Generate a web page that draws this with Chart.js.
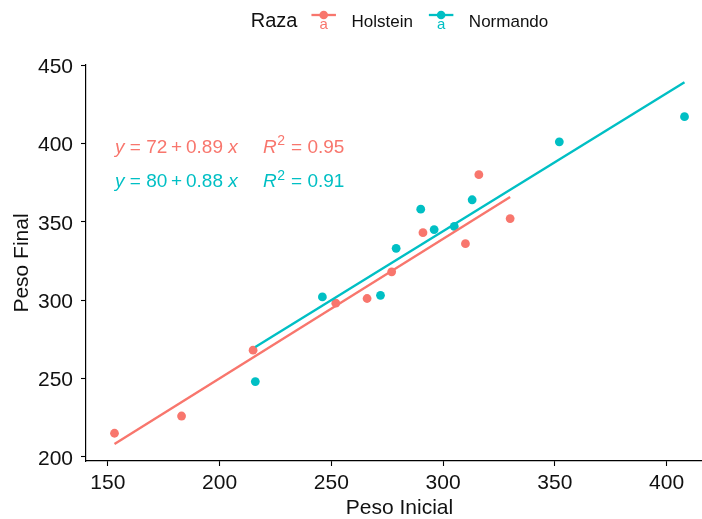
<!DOCTYPE html>
<html>
<head>
<meta charset="utf-8">
<script src="https://cdn.jsdelivr.net/npm/chart.js@4.4.1/dist/chart.umd.min.js"></script>
<style>
  html, body { margin: 0; padding: 0; background: #fff; overflow: hidden; }
  #wrap { width: 720px; height: 519px; }
</style>
</head>
<body>
<div id="wrap"><canvas id="chart" width="720" height="519"></canvas></div>
<script>
// ========== DATA ==========

const groupTitle = 'Raza';
const groupNames = ['Holstein', 'Normando'];
const groupColors = ['#F8766D', '#00BFC4'];

const holsteinInicial = [153, 183, 215, 252, 266, 277, 291, 310, 316, 330];
const holsteinFinal   = [215, 226, 268, 298, 301, 318, 343, 336, 380, 352];
const normandoInicial = [216, 246, 272, 279, 290, 296, 305, 313, 352, 408];
const normandoFinal   = [248, 302, 303, 333, 358, 345, 347, 364, 401, 417];

// fitted lines as printed on the plot
const intercepts = [72, 80];
const slopes = [0.89, 0.88];
const rSquared = ['0.95', '0.91'];

const xTicks = [150, 200, 250, 300, 350, 400];
const yTicks = [200, 250, 300, 350, 400, 450];

const FONT = "'Liberation Sans', Arial, sans-serif";

// ========== HELPERS ==========

function toPoints(xs, ys) {
  return xs.map((x, i) => ({ x: x, y: ys[i] }));
}

function fitLine(xs, i) {
  const lo = Math.min(...xs);
  const hi = Math.max(...xs);
  return [
    { x: lo, y: intercepts[i] + slopes[i] * lo },
    { x: hi, y: intercepts[i] + slopes[i] * hi }
  ];
}

const groupsX = [holsteinInicial, normandoInicial];
const groupsY = [holsteinFinal, normandoFinal];

// ========== PLUGINS ==========

// equation + R² labels in the upper left of the panel
const eqLabels = {
  id: 'eqLabels',
  afterDraw(chart) {
    const { ctx, chartArea } = chart;
    const thin = '\u2009';
    ctx.save();
    ctx.textBaseline = 'alphabetic';
    ctx.textAlign = 'left';
    groupNames.forEach((name, i) => {
      const base = chartArea.top + 87.5 + i * 34.5;
      ctx.fillStyle = groupColors[i];
      let x = chartArea.left + 29;
      ctx.font = 'italic 19px ' + FONT;
      ctx.fillText('y', x, base);
      x += ctx.measureText('y ').width;
      ctx.font = '19px ' + FONT;
      const body = '= ' + intercepts[i] + thin + '+' + thin + slopes[i].toFixed(2) + ' ';
      ctx.fillText(body, x, base);
      x += ctx.measureText(body).width;
      ctx.font = 'italic 19px ' + FONT;
      ctx.fillText('x', x, base);

      x = chartArea.left + 177;
      ctx.fillText('R', x, base);
      x += ctx.measureText('R').width + 0.5;
      ctx.font = '14px ' + FONT;
      ctx.fillText('2', x, base - 7.5);
      x += ctx.measureText('2').width + 6;
      ctx.font = '19px ' + FONT;
      ctx.fillText('= ' + rSquared[i], x, base);
    });
    ctx.restore();
  }
};

// legend strip above the panel: title, then line+point+"a" keys
const topLegend = {
  id: 'topLegend',
  afterDraw(chart) {
    const { ctx, chartArea } = chart;
    const keyW = 24.5;
    ctx.save();
    ctx.font = '20px ' + FONT;
    const titleW = ctx.measureText(groupTitle).width;
    ctx.font = '17px ' + FONT;
    const nameW = groupNames.map(n => ctx.measureText(n).width);
    const total = titleW + 14 + nameW.reduce((s, w) => s + keyW + 15.5 + w, 0) + 16 * (groupNames.length - 1);
    let x = (chartArea.left + chartArea.right) / 2 - total / 2;
    const base = 26.5;
    const keyY = 15;

    ctx.fillStyle = '#111';
    ctx.textBaseline = 'alphabetic';
    ctx.font = '20px ' + FONT;
    ctx.fillText(groupTitle, x, base);
    x += titleW + 14;

    groupNames.forEach((name, i) => {
      const c = groupColors[i];
      ctx.strokeStyle = c;
      ctx.lineWidth = 2.3;
      ctx.beginPath();
      ctx.moveTo(x, keyY);
      ctx.lineTo(x + keyW, keyY);
      ctx.stroke();
      ctx.fillStyle = c;
      ctx.beginPath();
      ctx.arc(x + keyW / 2, keyY, 4.3, 0, Math.PI * 2);
      ctx.fill();
      ctx.font = '15px ' + FONT;
      ctx.textAlign = 'center';
      ctx.fillText('a', x + keyW / 2, 28.5);
      ctx.textAlign = 'left';
      x += keyW + 15.5;
      ctx.fillStyle = '#111';
      ctx.font = '17px ' + FONT;
      ctx.fillText(name, x, base);
      x += nameW[i] + 16;
    });
    ctx.restore();
  }
};

// ========== CHART ==========

const datasets = [];
groupNames.forEach((name, i) => {
  datasets.push({
    type: 'line',
    label: name + ' ajuste',
    data: fitLine(groupsX[i], i),
    borderColor: groupColors[i],
    borderWidth: 2.4,
    pointRadius: 0,
    fill: false,
    order: 0
  });
});
groupNames.forEach((name, i) => {
  datasets.push({
    type: 'scatter',
    label: name,
    data: toPoints(groupsX[i], groupsY[i]),
    backgroundColor: groupColors[i],
    borderWidth: 0,
    pointRadius: 4.4,
    order: 1
  });
});

const tickFont = { family: FONT, size: 21 };

new Chart(document.getElementById('chart'), {
  data: { datasets: datasets },
  options: {
    responsive: false,
    animation: false,
    events: [],
    layout: { padding: { top: 65, right: 7, left: 0, bottom: 0 } },
    plugins: {
      legend: { display: false },
      tooltip: { enabled: false }
    },
    scales: {
      x: {
        type: 'linear',
        min: 140.25,
        max: 420.75,
        afterBuildTicks: s => { s.ticks = xTicks.map(v => ({ value: v })); },
        afterFit: s => { s.height = 58; },
        grid: { drawOnChartArea: false, color: '#000', tickLength: 5, tickWidth: 1.1 },
        border: { display: true, color: '#000', width: 1.2 },
        ticks: { font: tickFont, color: '#111', padding: 5, maxRotation: 0 },
        title: {
          display: true,
          text: 'Peso Inicial',
          font: { family: FONT, size: 21, lineHeight: 1 },
          color: '#111',
          padding: { top: 0, bottom: 0 }
        }
      },
      y: {
        type: 'linear',
        min: 197.3,
        max: 450,
        afterBuildTicks: s => { s.ticks = yTicks.map(v => ({ value: v })); },
        afterFit: s => { s.width = 86; },
        grid: { drawOnChartArea: false, color: '#000', tickLength: 5, tickWidth: 1.1 },
        border: { display: true, color: '#000', width: 1.2 },
        ticks: { font: tickFont, color: '#111', padding: 8, labelOffset: 2 },
        title: {
          display: true,
          text: 'Peso Final',
          font: { family: FONT, size: 21, lineHeight: 1 },
          color: '#111',
          padding: { top: 12, bottom: 0 }
        }
      }
    }
  },
  plugins: [eqLabels, topLegend]
});
</script>
</body>
</html>
